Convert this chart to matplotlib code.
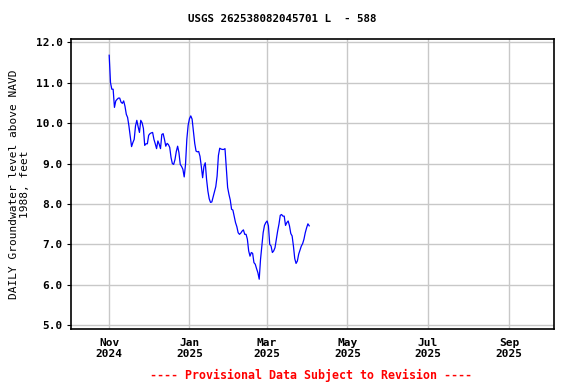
import datetime as dt
import matplotlib
matplotlib.use("Agg")
import matplotlib.pyplot as plt

plt.rcParams.update({'font.family': 'DejaVu Sans Mono', 'font.weight': 'bold', 'font.size': 8})

# daily values starting 2024-11-01
start = dt.date(2024, 11, 1)
levels = [
    11.68, 11.00, 10.84, 10.84, 10.39, 10.55, 10.59, 10.62, 10.62, 10.52,
    10.49, 10.55, 10.42, 10.22, 10.14, 9.93, 9.68, 9.42, 9.52, 9.60,
    9.93, 10.07, 9.91, 9.77, 10.07, 10.01, 9.87, 9.45, 9.49, 9.49,
    9.70, 9.74, 9.76, 9.77, 9.60, 9.49, 9.37, 9.56, 9.48, 9.37,
    9.72, 9.74, 9.60, 9.43, 9.50, 9.47, 9.40, 9.15, 9.00, 8.98,
    9.10, 9.30, 9.43, 9.27, 8.98, 8.93, 8.86, 8.67, 8.98, 9.60,
    9.95, 10.11, 10.18, 10.10, 9.80, 9.50, 9.31, 9.29, 9.30, 9.18,
    8.93, 8.65, 8.93, 9.02, 8.61, 8.32, 8.13, 8.04, 8.05, 8.18,
    8.32, 8.43, 8.69, 9.20, 9.38, 9.36, 9.35, 9.35, 9.37, 8.90,
    8.41, 8.24, 8.10, 7.87, 7.85, 7.70, 7.54, 7.44, 7.29, 7.25,
    7.28, 7.33, 7.36, 7.25, 7.25, 7.13, 6.84, 6.71, 6.80, 6.78,
    6.55, 6.51, 6.40, 6.30, 6.14, 6.63, 6.96, 7.29, 7.47, 7.54,
    7.58, 7.46, 7.00, 6.96, 6.80, 6.84, 6.92, 7.13, 7.33, 7.50,
    7.72, 7.74, 7.70, 7.70, 7.47, 7.54, 7.58, 7.46, 7.27, 7.21,
    6.96, 6.65, 6.53, 6.59, 6.76, 6.86, 6.96, 7.02, 7.13, 7.29,
    7.41, 7.51, 7.46,
]
dates = [start + dt.timedelta(days=i) for i in range(len(levels))]

tick_dates = [dt.date(2024, 11, 1), dt.date(2025, 1, 1), dt.date(2025, 3, 1),
              dt.date(2025, 5, 1), dt.date(2025, 7, 1), dt.date(2025, 9, 1)]
tick_labels = ['Nov\n2024', 'Jan\n2025', 'Mar\n2025', 'May\n2025', 'Jul\n2025', 'Sep\n2025']
y_ticks = [5.0, 6.0, 7.0, 8.0, 9.0, 10.0, 11.0, 12.0]

fig = plt.figure(figsize=(5.76, 3.84), dpi=100)
ax = fig.add_axes([0.1233, 0.1424, 0.8385, 0.7553])

ax.plot(dates, levels, color='#0000ff', lw=0.9)

ax.set_xlim(dt.date(2024, 10, 3), dt.date(2025, 10, 5))
ax.set_ylim(4.90, 12.075)
ax.set_xticks(tick_dates)
ax.set_xticklabels(tick_labels)
ax.set_yticks(y_ticks)
ax.set_yticklabels(['%.1f' % v for v in y_ticks])
ax.tick_params(axis='x', length=0, pad=6)
ax.tick_params(axis='y', length=3, pad=3)
ax.grid(True, color='#c8c8c8', lw=1)
ax.set_axisbelow(True)
for s in ax.spines.values():
    s.set_linewidth(1.2)

ax.set_ylabel('DAILY Groundwater level above NAVD\n1988, feet', labelpad=4)

fig.text(0.49, 0.95, 'USGS 262538082045701 L  - 588', ha='center', va='center', fontsize=7.8)
fig.text(0.54, 0.023, '---- Provisional Data Subject to Revision ----', ha='center', va='center',
         color='red', fontsize=8.4)

fig.savefig('out.png', dpi=100)
